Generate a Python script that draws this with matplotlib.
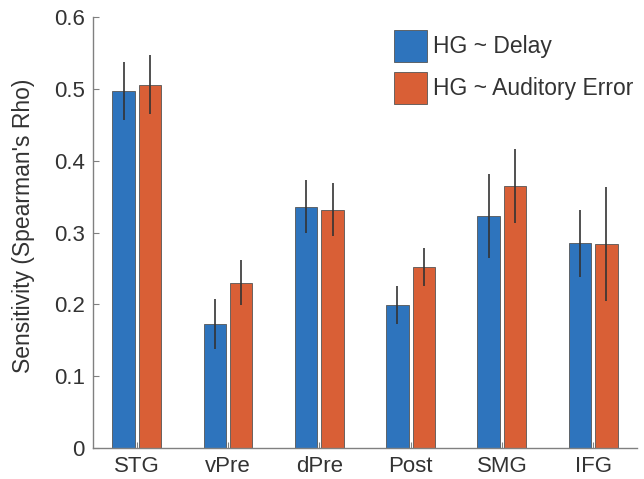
import numpy as np
import matplotlib
matplotlib.use("Agg")
import matplotlib.pyplot as plt

plt.rcParams['font.family'] = ['Liberation Sans', 'DejaVu Sans']

# データ
regions = ["STG", "vPre", "dPre", "Post", "SMG", "IFG"]
delay_rho = [0.497, 0.173, 0.336, 0.199, 0.323, 0.285]
delay_err = [0.040, 0.035, 0.037, 0.027, 0.058, 0.047]
aud_rho = [0.506, 0.230, 0.332, 0.252, 0.365, 0.284]
aud_err = [0.041, 0.031, 0.037, 0.026, 0.052, 0.080]
series_labels = ["HG ~ Delay", "HG ~ Auditory Error"]

blue = "#2e74bd"
orange = "#d95f36"
text_c = "#333333"
axis_c = "#808080"

fig = plt.figure(figsize=(6.44, 4.79), dpi=100)
ax = fig.add_axes([0.1444, 0.0653, 0.8446, 0.8986])

x = np.arange(len(regions))
w = 0.245
off = 0.145
ax.bar(x - off, delay_rho, w, yerr=delay_err, color=blue, edgecolor="#555555",
       linewidth=0.6, label=series_labels[0],
       error_kw=dict(ecolor="#333333", elinewidth=1.2, capsize=0))
ax.bar(x + off, aud_rho, w, yerr=aud_err, color=orange, edgecolor="#555555",
       linewidth=0.6, label=series_labels[1],
       error_kw=dict(ecolor="#333333", elinewidth=1.2, capsize=0))

ax.set_xlim(-0.48, 5.48)
ax.set_ylim(0, 0.6)
ax.set_yticks([0, 0.1, 0.2, 0.3, 0.4, 0.5, 0.6])
ax.set_yticklabels(["0", "0.1", "0.2", "0.3", "0.4", "0.5", "0.6"])
ax.set_xticks(x)
ax.set_xticklabels(regions)

for s in ["top", "right"]:
    ax.spines[s].set_visible(False)
for s in ["left", "bottom"]:
    ax.spines[s].set_color(axis_c)
    ax.spines[s].set_linewidth(1.0)

ax.tick_params(axis="both", direction="in", length=4, width=0.8, color=axis_c,
               labelsize=16, labelcolor=text_c, pad=6)
ax.set_ylabel("Sensitivity (Spearman's Rho)", fontsize=16.5, color=text_c)
ax.yaxis.set_label_coords(-0.107, 0.515)

ax.legend(loc="upper left", bbox_to_anchor=(0.553, 0.9705), frameon=False,
          fontsize=16.5, borderpad=0, borderaxespad=0, handlelength=1.44,
          handleheight=1.77, handletextpad=0.28, labelspacing=0.42,
          labelcolor=text_c)

fig.savefig("out.png", dpi=100)
